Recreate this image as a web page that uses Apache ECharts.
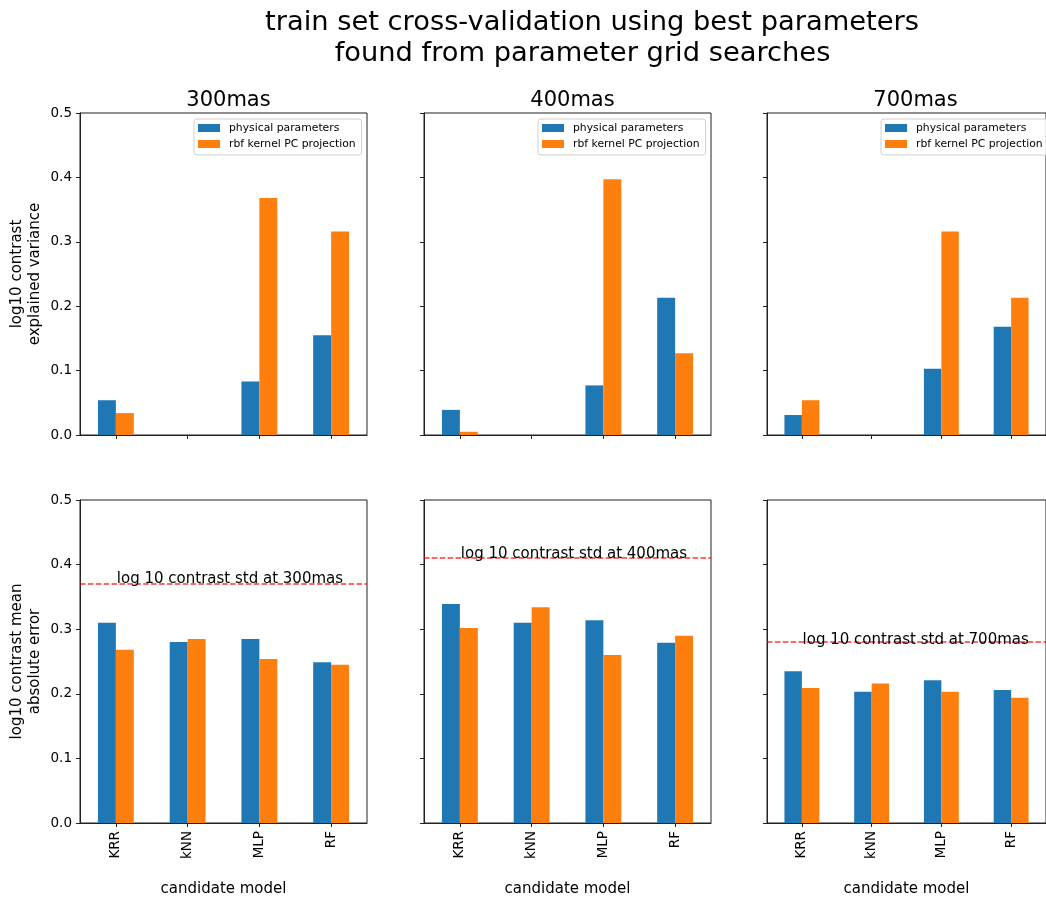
<!DOCTYPE html>
<html>
<head>
<meta charset="utf-8">
<script src="https://cdn.jsdelivr.net/npm/echarts@6/dist/echarts.min.js"></script>
<style>
  html, body { margin: 0; padding: 0; background: #fff; }
  #chart { width: 1046px; height: 899px; }
</style>
</head>
<body>
<div id="chart"></div>
<script>
// Candidate models on the x axis
const categories = ['KRR', 'kNN', 'MLP', 'RF'];
const separations = ['300mas', '400mas', '700mas'];
const seriesNames = ['physical parameters', 'rbf kernel PC projection'];
const titleLines = ['train set cross-validation using best parameters', 'found from parameter grid searches'];

// Explained variance (top row); kNN scores fall below the axis floor of 0
const ev300Physical = [0.054, null, 0.083, 0.155];
const ev300Rbf      = [0.034, null, 0.368, 0.316];
const ev400Physical = [0.039, null, 0.077, 0.213];
const ev400Rbf      = [0.005, null, 0.397, 0.127];
const ev700Physical = [0.031, null, 0.103, 0.168];
const ev700Rbf      = [0.054, null, 0.316, 0.213];

// Mean absolute error (bottom row)
const mae300Physical = [0.310, 0.280, 0.285, 0.249];
const mae300Rbf      = [0.268, 0.285, 0.254, 0.245];
const mae400Physical = [0.339, 0.310, 0.314, 0.279];
const mae400Rbf      = [0.302, 0.334, 0.260, 0.290];
const mae700Physical = [0.235, 0.203, 0.221, 0.206];
const mae700Rbf      = [0.209, 0.216, 0.203, 0.194];

// Standard deviation of log10 contrast at each separation
const contrastStd = [0.371, 0.410, 0.277];

const topRow = [[ev300Physical, ev300Rbf], [ev400Physical, ev400Rbf], [ev700Physical, ev700Rbf]];
const bottomRow = [[mae300Physical, mae300Rbf], [mae400Physical, mae400Rbf], [mae700Physical, mae700Rbf]];

const COLORS = ['#1f77b4', '#ff7f0e'];
const FONT = 'DejaVu Sans';
const colLeft = [80, 424, 767];
const panelW = 287;
const rowTop = [113, 500];
const rowH = [322, 323];

const grids = [], xAxes = [], yAxes = [], series = [], legends = [], titles = [];

// Figure title, one line per component
const titleCenters = [587, 577.5];
const titleTops = [4, 35];
titleLines.forEach((line, i) => {
  titles.push({
    text: line,
    left: titleCenters[i], top: titleTops[i], textAlign: 'center',
    textStyle: { fontFamily: FONT, fontSize: 27.3, fontWeight: 'normal', color: '#000' }
  });
});

for (let r = 0; r < 2; r++) {
  for (let c = 0; c < 3; c++) {
    const idx = r * 3 + c;
    grids.push({
      left: colLeft[c], top: rowTop[r], width: panelW, height: rowH[r],
      show: true, borderColor: '#222', borderWidth: 1, backgroundColor: 'transparent'
    });
    xAxes.push({
      type: 'category', gridIndex: idx, data: categories,
      axisLine: { lineStyle: { color: '#222', width: 1 } },
      axisTick: { show: true, alignWithLabel: true, length: 4, lineStyle: { color: '#222' } },
      axisLabel: {
        show: r === 1, rotate: 90, margin: 8, interval: 0,
        fontFamily: FONT, fontSize: 13.5, color: '#000'
      },
      name: r === 1 ? 'candidate model' : '',
      nameLocation: 'middle', nameGap: 59,
      nameTextStyle: { fontFamily: FONT, fontSize: 15, color: '#000' }
    });
    yAxes.push({
      type: 'value', gridIndex: idx, min: 0, max: 0.5, interval: 0.1,
      splitLine: { show: false },
      axisLine: { show: true, lineStyle: { color: '#222', width: 1 } },
      axisTick: { show: true, length: 4, lineStyle: { color: '#222' } },
      axisLabel: {
        show: c === 0, margin: 8, fontFamily: FONT, fontSize: 13.5, color: '#000',
        formatter: v => v.toFixed(1)
      },
      name: c === 0 ? (r === 0 ? 'log10 contrast\nexplained variance' : 'log10 contrast mean\nabsolute error') : '',
      nameLocation: 'middle', nameRotate: 90, nameGap: 36,
      nameTextStyle: { fontFamily: FONT, fontSize: 15, lineHeight: 18, color: '#000' }
    });

    const data = r === 0 ? topRow[c] : bottomRow[c];
    for (let s = 0; s < 2; s++) {
      const ser = {
        type: 'bar', name: seriesNames[s],
        xAxisIndex: idx, yAxisIndex: idx,
        data: data[s], barWidth: '25%', barGap: '0%',
        itemStyle: { color: COLORS[s] },
        emphasis: { disabled: true },
        animation: false
      };
      if (r === 1 && s === 1) {
        ser.markLine = {
          silent: true, symbol: 'none',
          lineStyle: { color: 'rgba(255,0,0,0.8)', type: [5.5, 2.4], width: 1.5 },
          label: { show: false },
          data: [{ yAxis: contrastStd[c] }],
          animation: false
        };
        ser.markPoint = {
          silent: true, symbol: 'circle', symbolSize: 0,
          label: {
            show: true, position: 'inside', align: 'left', verticalAlign: 'middle',
            offset: [-8, -4], fontFamily: FONT, fontSize: 15, color: '#000',
            formatter: 'log 10 contrast std at ' + separations[c]
          },
          data: [{ coord: [categories[0], contrastStd[c]] }],
          animation: false
        };
      }
      series.push(ser);
    }
  }
}

for (let c = 0; c < 3; c++) {
  titles.push({
    text: separations[c],
    left: colLeft[c] + panelW / 2, top: 85, textAlign: 'center',
    textStyle: { fontFamily: FONT, fontSize: 21, fontWeight: 'normal', color: '#000' }
  });
  legends.push({
    data: seriesNames, orient: 'vertical',
    left: colLeft[c] + 114, top: 119,
    itemWidth: 22, itemHeight: 8, itemGap: 4,
    icon: 'rect',
    padding: [3, 6, 5, 4],
    borderColor: '#d0d0d0', borderWidth: 1, borderRadius: 3,
    backgroundColor: 'rgba(255,255,255,0.8)',
    selectedMode: false,
    textStyle: { fontFamily: FONT, fontSize: 10.8, lineHeight: 12, color: '#000', padding: [0, 0, 0, 4] }
  });
}

const chart = echarts.init(document.getElementById('chart'), null, { renderer: 'canvas' });
chart.setOption({
  animation: false,
  backgroundColor: '#fff',
  title: titles,
  legend: legends,
  grid: grids,
  xAxis: xAxes,
  yAxis: yAxes,
  series: series
});
</script>
</body>
</html>
